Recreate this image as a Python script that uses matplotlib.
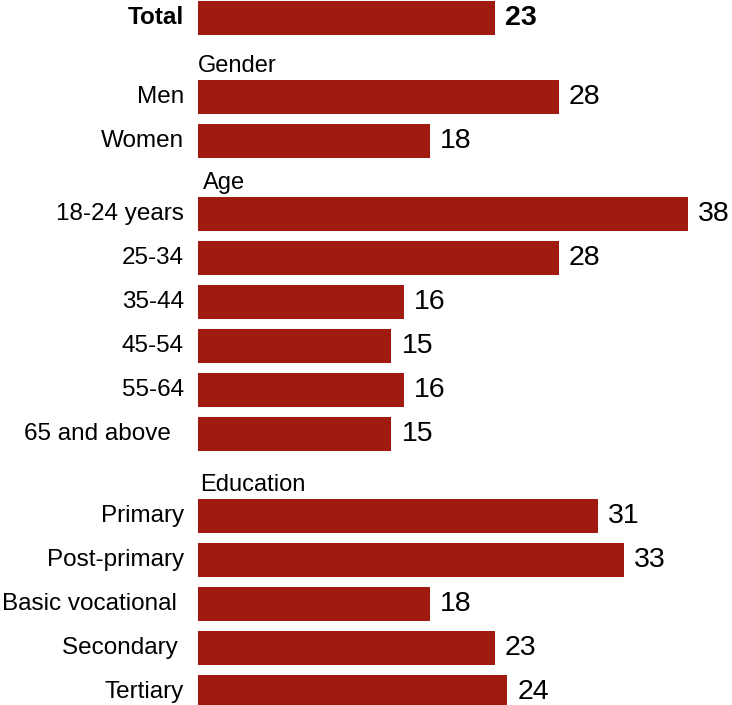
import matplotlib
matplotlib.use("Agg")
import matplotlib.pyplot as plt

# ---- data ----
total_label = "Total"
total_value = 23

groups = ["Gender", "Age", "Education"]
gender_labels = ["Men", "Women"]
gender_values = [28, 18]
age_labels = ["18-24 years", "25-34", "35-44", "45-54", "55-64", "65 and above  "]
age_values = [38, 28, 16, 15, 16, 15]
edu_labels = ["Primary", "Post-primary", "Basic vocational ", "Secondary ", "Tertiary"]
edu_values = [31, 33, 18, 23, 24]

BAR = "#A11A0F"
plt.rcParams["font.family"] = ["Liberation Sans", "DejaVu Sans"]

W, H = 732, 705
fig = plt.figure(figsize=(W / 100, H / 100), dpi=100)
ax = fig.add_axes([0, 0, 1, 1])

# pixel geometry -> data
px_per_unit = 12.895
x0_px = 198
row_px = 44
first_center_px = 18
ax.set_xlim(-x0_px / px_per_unit, (W - x0_px) / px_per_unit)
ax.set_ylim((H - first_center_px) / row_px, -first_center_px / row_px)
ax.axis("off")

label_x = (184 - x0_px) / px_per_unit
val_off = 10 / px_per_unit
bar_h = 34 / row_px
lab_fs = 17.5
hdr_fs = 17
val_fs = 20.5

# positions (in rows)
group_starts = [1.795, 4.455, 11.32]
header_dx = [0.0, 0.4, 0.2]
group_data = [(gender_labels, gender_values),
              (age_labels, age_values),
              (edu_labels, edu_values)]

# Total
ax.barh(0, total_value, height=bar_h, color=BAR)
ax.text(label_x, 0, total_label, ha="right", va="center", fontsize=lab_fs,
        fontweight="bold")
ax.text(total_value + val_off, 0, str(total_value), ha="left", va="center",
        fontsize=val_fs, fontweight="bold")

for g, start, dx, (labs, vals) in zip(groups, group_starts, header_dx, group_data):
    ys = [start + i for i in range(len(labs))]
    ax.barh(ys, vals, height=bar_h, color=BAR)
    ax.text(dx, start - 0.57, g, ha="left", va="baseline", fontsize=hdr_fs)
    for y, lab, v in zip(ys, labs, vals):
        ax.text(label_x, y, lab, ha="right", va="center", fontsize=lab_fs)
        ax.text(v + val_off, y, str(v), ha="left", va="center", fontsize=val_fs)

fig.savefig("out.png", dpi=100)
